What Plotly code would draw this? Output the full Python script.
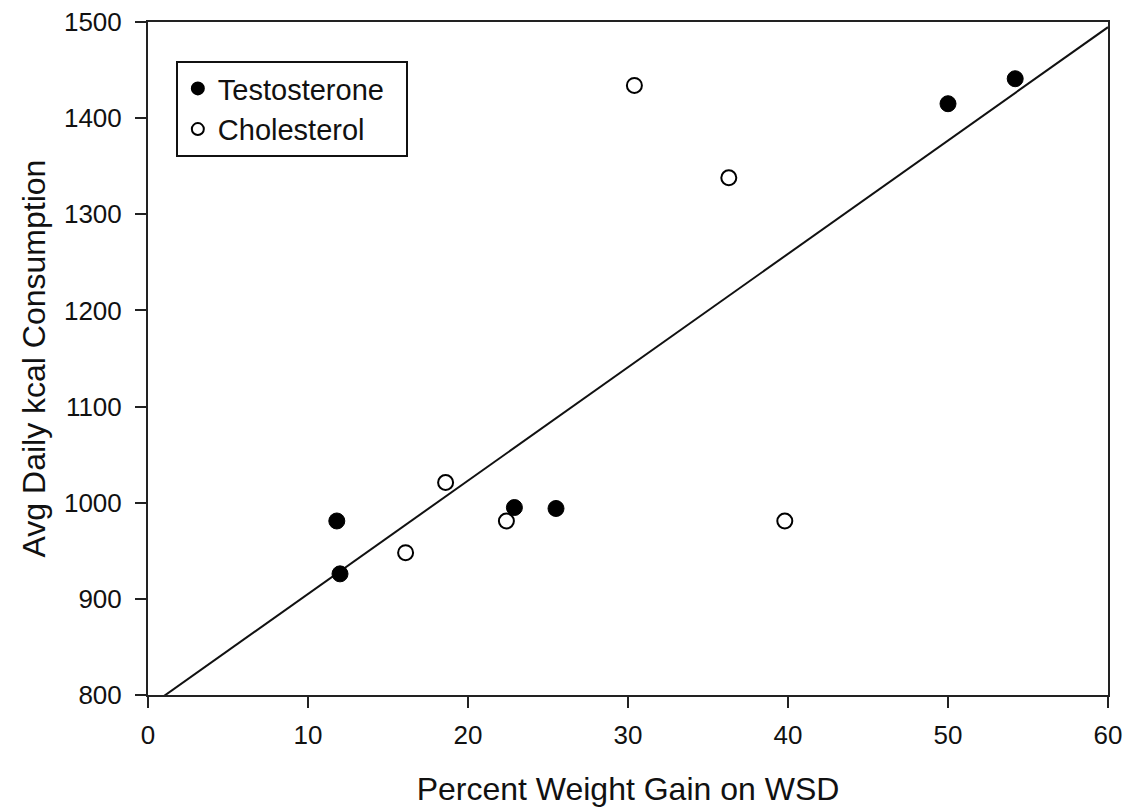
import numpy as np
import plotly.graph_objects as go

# Data
testo_x = [11.8, 12.0, 22.9, 25.5, 50.0, 54.2]
testo_y = [981, 926, 995, 994, 1415, 1441]
chol_x = [18.6, 16.1, 22.4, 30.4, 36.3, 39.8]
chol_y = [1021, 948, 981, 1434, 1338, 981]

x_ticks = [0, 10, 20, 30, 40, 50, 60]
y_ticks = [800, 900, 1000, 1100, 1200, 1300, 1400, 1500]

# Linear regression through all points
all_x = np.array(testo_x + chol_x, dtype=float)
all_y = np.array(testo_y + chol_y, dtype=float)
slope, intercept = np.polyfit(all_x, all_y, 1)
fit_x = np.linspace(0, 60, 61)
fit_y = slope * fit_x + intercept

FONT = "Liberation Sans, Arial, Helvetica, sans-serif"
PAD = "\u00a0\u00a0"  # extra legend right padding

fig = go.Figure()
fig.add_trace(go.Scatter(x=fit_x, y=fit_y, mode="lines",
                         line=dict(color="#111111", width=2),
                         showlegend=False, hoverinfo="skip"))
fig.add_trace(go.Scatter(x=testo_x, y=testo_y, mode="markers", name="Testosterone" + PAD,
                         marker=dict(symbol="circle", size=16, color="#000000",
                                     line=dict(color="#000000", width=1))))
fig.add_trace(go.Scatter(x=chol_x, y=chol_y, mode="markers", name="Cholesterol" + PAD,
                         marker=dict(symbol="circle", size=15, color="#ffffff",
                                     line=dict(color="#000000", width=2))))

axis_common = dict(
    showline=True, linecolor="#222222", linewidth=2, mirror=True,
    ticks="outside", ticklen=11, tickwidth=2, tickcolor="#222222",
    showgrid=False, zeroline=False, automargin=False,
    ticklabeloverflow="allow",
    tickfont=dict(family=FONT, size=26, color="#111111"),
)

fig.update_xaxes(range=[0, 60], tickvals=x_ticks, ticklabelstandoff=5,
                 title=dict(text="Percent Weight Gain on WSD",
                            font=dict(family=FONT, size=32, color="#111111"),
                            standoff=28),
                 **axis_common)
fig.update_yaxes(range=[800, 1500], tickvals=y_ticks, ticklabelstandoff=8,
                 title=dict(text="Avg Daily kcal Consumption",
                            font=dict(family=FONT, size=32, color="#111111"),
                            standoff=9),
                 **axis_common)

fig.update_layout(
    width=1136, height=811,
    margin=dict(l=140, r=36, t=14, b=124, autoexpand=False),
    plot_bgcolor="white", paper_bgcolor="white",
    font=dict(family=FONT, color="#111111"),
    legend=dict(x=0.029, y=0.942, xanchor="left", yanchor="top",
                bordercolor="#111111", borderwidth=2, bgcolor="white",
                font=dict(family=FONT, size=29, color="#111111"),
                itemsizing="constant", tracegroupgap=0),
    showlegend=True,
)

fig.write_html("out.html")
